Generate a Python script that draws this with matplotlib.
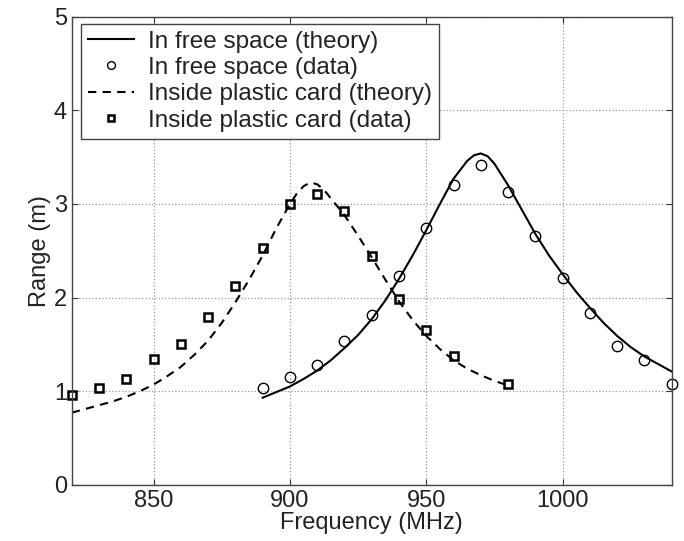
import matplotlib
matplotlib.use("Agg")
import matplotlib.pyplot as plt

# ---------------------------------------------------------------------------
# Data
# ---------------------------------------------------------------------------

# free space, theory curve
free_theory_f = [890, 895, 900, 905, 910, 915, 920, 925, 930, 935, 940, 945,
                 950, 955, 960, 965, 967.5, 970, 972.5, 975, 980, 985, 990,
                 995, 1000, 1005, 1010, 1015, 1020, 1025, 1030, 1035, 1040]
free_theory_r = [0.93, 0.99, 1.05, 1.13, 1.22, 1.33, 1.46, 1.60, 1.77, 1.97,
                 2.20, 2.45, 2.72, 3.00, 3.27, 3.46, 3.52, 3.54, 3.51, 3.43,
                 3.20, 2.94, 2.68, 2.45, 2.25, 2.06, 1.89, 1.73, 1.59, 1.47,
                 1.37, 1.29, 1.21]

# free space, measured
free_data_f = [890, 900, 910, 920, 930, 940, 950, 960, 970, 980, 990, 1000,
               1010, 1020, 1030, 1040]
free_data_r = [1.03, 1.15, 1.28, 1.54, 1.81, 2.23, 2.74, 3.20, 3.42, 3.13,
               2.66, 2.21, 1.84, 1.48, 1.33, 1.08]

# inside plastic card, theory curve
card_theory_f = [820, 825, 830, 835, 840, 845, 850, 855, 860, 865, 870, 875,
                 880, 885, 890, 895, 900, 902.5, 905, 907.5, 910, 912.5, 915,
                 920, 925, 930, 935, 940, 945, 950, 955, 960, 965, 970, 975,
                 980]
card_theory_r = [0.77, 0.81, 0.85, 0.89, 0.94, 1.00, 1.07, 1.16, 1.26, 1.39,
                 1.54, 1.73, 1.95, 2.19, 2.45, 2.74, 3.00, 3.11, 3.19, 3.23,
                 3.21, 3.15, 3.06, 2.88, 2.66, 2.43, 2.19, 1.96, 1.76, 1.59,
                 1.45, 1.33, 1.24, 1.17, 1.11, 1.06]

# inside plastic card, measured
card_data_f = [820, 830, 840, 850, 860, 870, 880, 890, 900, 910, 920, 930,
               940, 950, 960, 980]
card_data_r = [0.96, 1.03, 1.13, 1.34, 1.50, 1.79, 2.12, 2.53, 3.00, 3.11,
               2.93, 2.44, 1.98, 1.65, 1.38, 1.08]

x_ticks = [850, 900, 950, 1000]
y_ticks = [0, 1, 2, 3, 4, 5]

# ---------------------------------------------------------------------------
# Plot
# ---------------------------------------------------------------------------

plt.rcParams["font.family"] = ["Liberation Sans", "DejaVu Sans"]
FS = 17

fig = plt.figure(figsize=(6.84, 5.41), dpi=100)
ax = fig.add_axes([0.105, 0.104, 0.877, 0.865])

ax.plot(free_theory_f, free_theory_r, "-", color="black", linewidth=1.5,
        label="In free space (theory)")
ax.plot(free_data_f, free_data_r, "o", linestyle="none", markersize=7.5,
        markerfacecolor="none", markeredgecolor="black", markeredgewidth=1.0,
        clip_on=False, label="In free space (data)")
ax.plot(card_theory_f, card_theory_r, "--", color="black", linewidth=1.5,
        dashes=(4, 3), label="Inside plastic card (theory)")
ax.plot(card_data_f, card_data_r, "s", linestyle="none", markersize=6,
        markerfacecolor="none", markeredgecolor="black", markeredgewidth=1.8,
        clip_on=False, label="Inside plastic card (data)")

ax.set_xlim(820, 1040)
ax.set_ylim(0, 5)
ax.set_xticks(x_ticks)
ax.set_yticks(y_ticks)
ax.tick_params(direction="in", top=True, right=True, labelsize=FS,
               length=4, colors="#333333", labelcolor="#222222")
ax.grid(True, linestyle=":", color="#999999", linewidth=0.9)
for sp in ax.spines.values():
    sp.set_color("#444444")
    sp.set_linewidth(1.0)

ax.set_xlabel("Frequency (MHz)", fontsize=FS, color="#222222", labelpad=0)
ax.set_ylabel("Range (m)", fontsize=FS, color="#222222", labelpad=2)

leg = ax.legend(loc="upper left", bbox_to_anchor=(0.015, 0.985),
                fontsize=17.5, frameon=True, fancybox=False, framealpha=1,
                edgecolor="#444444", handlelength=1.9, handletextpad=0.6,
                labelspacing=0.18, borderpad=0.28, borderaxespad=0,
                markerscale=0.75)
leg.get_frame().set_linewidth(1.0)
for t in leg.get_texts():
    t.set_color("#222222")

fig.savefig("out.png", dpi=100)
